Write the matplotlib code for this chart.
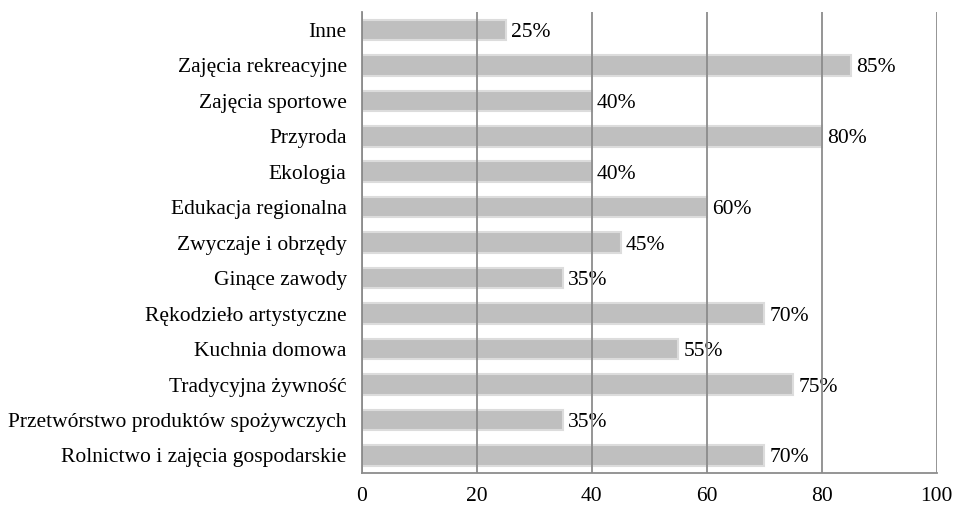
import matplotlib.pyplot as plt

# kategorie od dołu do góry
kategorie = [
    'Rolnictwo i zajęcia gospodarskie',
    'Przetwórstwo produktów spożywczych',
    'Tradycyjna żywność',
    'Kuchnia domowa',
    'Rękodzieło artystyczne',
    'Ginące zawody',
    'Zwyczaje i obrzędy',
    'Edukacja regionalna',
    'Ekologia',
    'Przyroda',
    'Zajęcia sportowe',
    'Zajęcia rekreacyjne',
    'Inne',
]
wartosci = [70, 35, 75, 55, 70, 35, 45, 60, 40, 80, 40, 85, 25]
x_ticki = [0, 20, 40, 60, 80, 100]

plt.rcParams['font.family'] = ['Liberation Serif', 'DejaVu Serif']
plt.rcParams['font.size'] = 15.5

fig = plt.figure(figsize=(9.55, 5.05), dpi=100)
ax = fig.add_axes([0.379, 0.063, 0.602, 0.913])

pozycje = range(len(kategorie))
ax.barh(pozycje, wartosci, height=0.58, color='#bfbfbf',
        edgecolor='#dcdcdc', linewidth=1.5, zorder=2)

# etykiety z procentami przy końcu słupka
for y, v in zip(pozycje, wartosci):
    ax.text(v + 0.9, y, f'{v}%', va='center_baseline', ha='left',
            fontsize=15.5, zorder=1)

ax.set_xlim(0, 100)
ax.set_ylim(-0.5, len(kategorie) - 0.5)
ax.set_xticks(x_ticki)
ax.set_yticks(list(pozycje))
ax.set_yticklabels(kategorie)

ax.grid(axis='x', color='#8c8c8c', linewidth=1.3, zorder=3)
ax.set_axisbelow(False)
for s in ['top', 'right']:
    ax.spines[s].set_visible(False)
for s in ['left', 'bottom']:
    ax.spines[s].set_color('#8c8c8c')
    ax.spines[s].set_linewidth(1.3)
    ax.spines[s].set_zorder(4)

ax.tick_params(axis='both', length=0)
ax.tick_params(axis='y', pad=11)
ax.tick_params(axis='x', pad=10)

plt.savefig('out.png', dpi=100)
